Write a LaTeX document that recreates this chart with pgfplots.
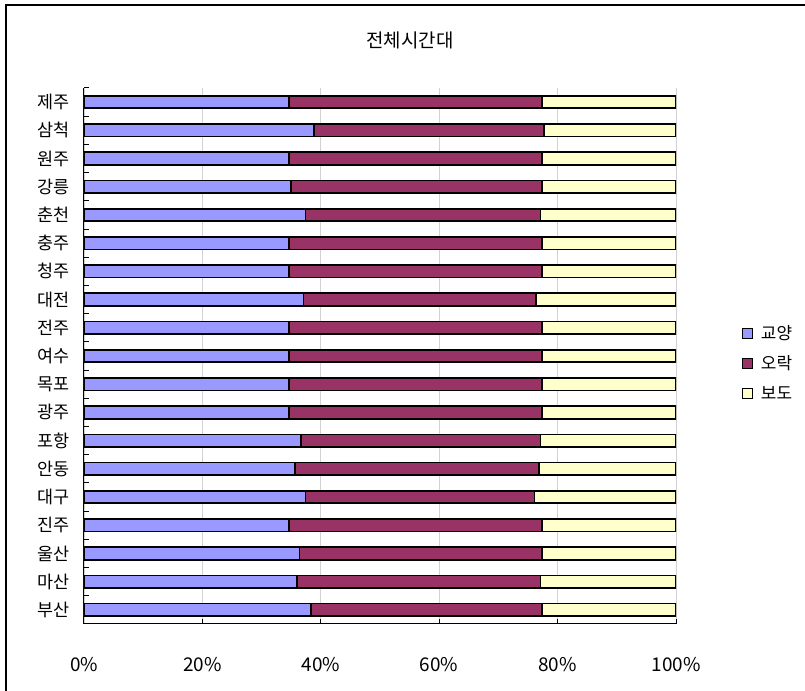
\documentclass[border=0pt]{standalone}
\usepackage{fontspec}
\setmainfont{Noto Sans CJK KR}
\usepackage{pgfplots}
\pgfplotsset{compat=1.18}
\definecolor{gyoyang}{HTML}{9999FF}
\definecolor{orak}{HTML}{993366}
\definecolor{bodo}{HTML}{FFFFCC}
\begin{document}
\begin{tikzpicture}[x=1bp,y=1bp]
% picture box: 805 x 691, axis lower left at (0,0)
\useasboundingbox (-84,-67) rectangle (721,624);
\draw[line width=1.2bp] (-78,-67) -- (-78,619) -- (721,619);
\node[font=\fontsize{19}{22}\selectfont] at (326,584) {전체시간대};
\begin{axis}[
    at={(0,0)}, anchor=south west,
    scale only axis,
    width=592bp, height=536bp,
    xbar stacked,
    bar width=12.5bp,
    xmin=0, xmax=100,
    ymin=-0.5, ymax=18.5,
    axis x line*=bottom, axis y line*=left,
    axis line style={-, line width=1bp},
    xtick={0,20,40,60,80,100},
    xticklabels={0\%,20\%,40\%,60\%,80\%,100\%},
    ytick={-0.5,0.5,...,18.5},
    yticklabels={},
    extra y ticks={0,...,18},
    extra y tick labels={부산,마산,울산,진주,대구,안동,포항,광주,목포,여수,전주,대전,청주,충주,춘천,강릉,원주,삼척,제주},
    extra y tick style={major tick length=0pt},
    tick align=inside,
    tick style={black, line width=1bp},
    major tick length=5bp,
    xmajorgrids,
    major grid style={gray!35, line width=0.8bp},
    yticklabel style={font=\fontsize{17.5}{20}\selectfont, xshift=-11bp},
    xticklabel style={font=\fontsize{19}{22}\selectfont, yshift=-30bp},
    legend style={at={(1.106,0.487)}, anchor=west, draw=none, fill=none,
      font=\fontsize{17}{20}\selectfont, row sep=11bp,
      /tikz/every odd column/.append style={column sep=6bp}},
    legend cell align=left,
    legend image code/.code={\draw[#1, line width=1bp] (0bp,-5bp) rectangle (10bp,5bp);},
    every axis plot/.append style={draw=black, line width=1.7bp},
]
\addplot[fill=gyoyang] coordinates {
 (38.4,0) (36.0,1) (36.4,2) (34.6,3) (37.4,4) (35.6,5) (36.7,6) (34.6,7) (34.6,8) (34.6,9)
 (34.6,10) (37.1,11) (34.6,12) (34.6,13) (37.4,14) (35.0,15) (34.6,16) (38.8,17) (34.6,18)
};
\addplot[fill=orak] coordinates {
 (39.0,0) (41.1,1) (41.0,2) (42.8,3) (38.7,4) (41.2,5) (40.4,6) (42.8,7) (42.8,8) (42.8,9)
 (42.8,10) (39.3,11) (42.8,12) (42.8,13) (39.7,14) (42.4,15) (42.8,16) (38.9,17) (42.8,18)
};
\addplot[fill=bodo] coordinates {
 (22.6,0) (22.9,1) (22.6,2) (22.6,3) (23.9,4) (23.2,5) (22.9,6) (22.6,7) (22.6,8) (22.6,9)
 (22.6,10) (23.6,11) (22.6,12) (22.6,13) (22.9,14) (22.6,15) (22.6,16) (22.3,17) (22.6,18)
};
\legend{교양,오락,보도}
\end{axis}
\end{tikzpicture}
\end{document}
